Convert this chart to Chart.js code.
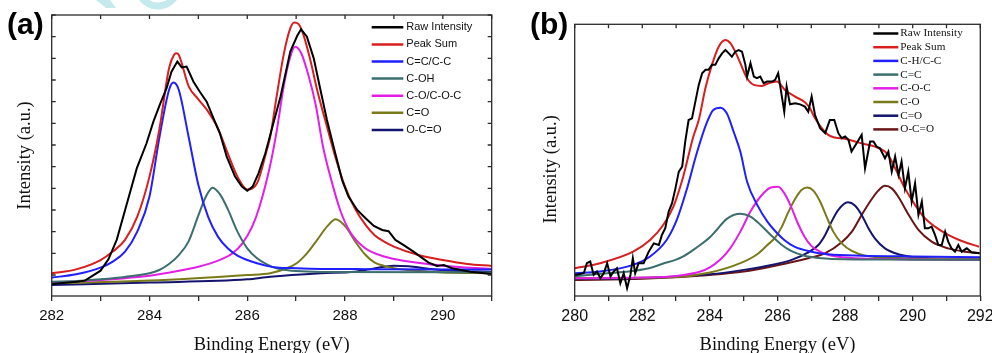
<!DOCTYPE html>
<html>
<head>
<meta charset="utf-8">
<script src="https://cdn.jsdelivr.net/npm/chart.js@4.4.1/dist/chart.umd.min.js"></script>
<style>
  html, body { margin: 0; padding: 0; background: #fff; }
  #wrap { position: relative; width: 992px; height: 353px; overflow: hidden; }
  .panel { position: absolute; top: 0; height: 353px; }
</style>
</head>
<body>
<div id="wrap">
  <div class="panel" style="left:0;width:496px"><canvas id="chartA"></canvas></div>
  <div class="panel" style="left:496px;width:520px"><canvas id="chartB"></canvas></div>
</div>
<script>
// ---- panel (a): C1s, binding energy (eV) vs intensity (a.u.) ----
const rawA = [
  [282.0,-0.42],[282.51,-0.31],[282.68,-0.26],[283.0,0.2],[283.16,0.72],[283.33,1.62],[283.53,3.23],
  [283.74,4.92],[283.94,6.08],[284.08,7.08],[284.21,7.85],[284.35,8.62],[284.45,9.38],[284.57,9.85],
  [284.66,9.58],[284.76,9.62],[284.9,8.92],[285.03,8.46],[285.17,8.0],[285.31,7.23],[285.44,6.54],
  [285.58,5.46],[285.75,4.54],[285.89,4.08],[286.0,3.89],[286.11,4.08],[286.23,4.69],[286.37,5.62],
  [286.47,6.46],[286.68,8.23],[286.88,10.31],[287.02,11.03],[287.1,11.34],[287.22,11.0],[287.36,10.0],
  [287.49,8.62],[287.63,7.15],[287.8,5.62],[287.94,4.38],[288.07,3.62],[288.25,3.0],[288.42,2.62],
  [288.59,2.26],[288.76,2.08],[288.89,2.02],[289.03,1.62],[289.2,1.38],[289.4,1.08],[289.54,0.85],
  [289.71,0.57],[289.88,0.42],[290.02,0.46],[290.19,0.31],[290.56,0.15],[291.0,0.05]
];
const sumA = [
  [282.0,0.08],[282.5,0.26],[283.0,0.69],[283.25,1.08],[283.5,1.62],[283.75,2.69],[284.0,4.54],
  [284.2,6.69],[284.4,9.54],[284.5,10.15],[284.55,10.23],[284.6,10.15],[284.8,8.72],[285.0,8.11],
  [285.2,7.54],[285.4,6.77],[285.6,5.62],[285.8,4.54],[286.0,3.95],[286.2,4.23],[286.4,5.77],
  [286.47,6.38],[286.6,8.23],[286.75,10.23],[286.88,11.38],[286.96,11.65],[287.05,11.58],[287.15,11.08],
  [287.29,9.92],[287.43,8.54],[287.63,6.85],[287.8,5.46],[288.0,4.08],[288.2,3.08],[288.42,2.31],
  [288.6,1.85],[288.8,1.54],[289.0,1.31],[289.5,0.92],[290.0,0.69],[290.5,0.51],[291.0,0.42]
];
const ccA = [
  [282.0,-0.12],[282.5,0.03],[283.0,0.34],[283.25,0.62],[283.5,1.08],[283.75,2.0],[284.0,3.62],
  [284.2,6.31],[284.4,8.54],[284.49,8.88],[284.6,8.54],[284.8,6.38],[285.0,4.15],[285.2,2.68],
  [285.4,1.77],[285.6,1.23],[285.8,0.89],[286.0,0.69],[286.2,0.54],[286.4,0.42],[286.6,0.35],
  [287.0,0.31],[287.5,0.28],[288.5,0.27],[291.0,0.25]
];
const cohA = [
  [282.0,-0.31],[282.5,-0.28],[283.0,-0.2],[283.5,-0.09],[284.0,0.08],[284.2,0.23],[284.4,0.51],
  [284.6,0.92],[284.8,1.55],[285.0,2.75],[285.15,3.6],[285.29,4.03],[285.45,3.7],[285.6,3.05],
  [285.8,2.0],[286.0,1.23],[286.2,0.77],[286.4,0.49],[286.6,0.31],[286.8,0.23],[287.0,0.18],
  [287.5,0.14],[291.0,0.12]
];
const coA = [
  [282.0,-0.35],[283.0,-0.23],[284.0,-0.03],[284.5,0.15],[285.0,0.38],[285.4,0.66],[285.7,1.0],
  [285.9,1.46],[286.1,2.23],[286.25,3.15],[286.47,5.08],[286.6,6.62],[286.75,8.77],[286.88,10.08],
  [286.98,10.54],[287.1,10.26],[287.25,9.23],[287.4,7.85],[287.55,5.92],[287.7,4.54],[287.9,3.0],
  [288.1,2.0],[288.4,1.26],[288.8,0.85],[289.3,0.62],[290.0,0.43],[291.0,0.28]
];
const cdoA = [
  [282.0,-0.38],[284.0,-0.26],[286.0,0.0],[286.47,0.08],[286.81,0.31],[287.01,0.54],[287.22,1.0],
  [287.43,1.62],[287.63,2.23],[287.81,2.57],[288.01,2.23],[288.21,1.54],[288.42,0.92],[288.6,0.58],
  [288.8,0.42],[289.0,0.31],[289.51,0.18],[290.0,0.12],[291.0,0.08]
];
const ocoA = [
  [282.0,-0.46],[284.0,-0.35],[286.0,-0.2],[286.47,-0.08],[287.5,0.08],[288.2,0.15],[288.5,0.26],
  [288.8,0.38],[289.0,0.43],[289.3,0.4],[289.7,0.29],[290.2,0.2],[291.0,0.14]
];

// ---- panel (b) ----
const rawB = [
  [280.0,0.05],[280.12,0.08],[280.27,0.13],[280.36,0.61],[280.46,0.69],[280.56,0.05],[280.66,0.21],
  [280.76,-0.11],[280.86,0.13],[280.96,0.61],[281.06,-0.03],[281.15,0.21],[281.25,0.37],[281.35,-0.35],
  [281.45,0.13],[281.55,-0.59],[281.65,0.05],[281.72,0.85],[281.79,0.13],[281.89,0.61],[282.04,0.61],
  [282.19,1.16],[282.34,1.56],[282.49,1.48],[282.58,1.96],[282.68,2.28],[282.78,3.08],[282.88,3.48],
  [282.98,4.19],[283.08,4.99],[283.18,5.23],[283.27,6.43],[283.37,7.46],[283.47,7.54],[283.57,8.34],
  [283.67,9.14],[283.77,9.7],[283.87,9.86],[283.96,9.86],[284.06,10.1],[284.16,10.1],[284.26,10.41],
  [284.36,10.65],[284.46,10.81],[284.56,10.65],[284.65,10.49],[284.75,10.73],[284.85,10.81],[284.95,10.73],
  [285.05,10.1],[285.1,9.54],[285.2,10.18],[285.3,9.54],[285.39,9.46],[285.49,9.54],[285.59,9.22],
  [285.69,9.3],[285.84,9.3],[285.93,9.38],[286.02,9.7],[286.2,7.86],[286.27,9.06],[286.37,8.21],
  [286.52,8.26],[286.67,8.21],[286.81,8.1],[286.91,7.86],[287.01,8.58],[287.11,7.7],[287.26,7.07],
  [287.41,6.83],[287.55,7.46],[287.68,7.46],[287.8,6.83],[287.9,6.59],[288.0,6.67],[288.1,6.51],
  [288.19,5.95],[288.34,6.35],[288.49,6.75],[288.59,5.15],[288.74,6.43],[288.84,6.43],[288.93,6.19],
  [289.03,6.11],[289.18,5.63],[289.28,5.95],[289.38,4.99],[289.48,5.71],[289.58,4.83],[289.67,5.47],
  [289.77,4.19],[289.87,4.99],[289.97,3.56],[290.07,4.43],[290.17,2.92],[290.27,3.56],[290.36,2.28],
  [290.46,2.28],[290.56,2.36],[290.66,1.96],[290.76,1.48],[290.86,1.48],[290.96,2.12],[291.05,1.64],
  [291.15,1.32],[291.25,1.16],[291.35,1.48],[291.45,1.16],[291.6,1.32],[291.74,1.13],[291.96,1.08]
];
const sumB = [
  [280.0,0.37],[280.75,0.61],[281.73,1.16],[282.23,1.72],[282.62,2.44],[282.92,3.32],[283.21,4.75],
  [283.51,6.67],[283.67,7.46],[283.87,9.0],[284.06,10.1],[284.26,10.97],[284.46,11.29],[284.61,11.13],
  [284.75,10.73],[284.9,10.18],[285.1,9.46],[285.3,9.14],[285.54,9.09],[285.74,9.22],[285.98,9.3],
  [286.22,8.9],[286.52,8.58],[286.81,8.31],[286.96,8.02],[287.11,7.54],[287.31,7.07],[287.5,6.75],
  [287.7,6.62],[288.0,6.56],[288.29,6.43],[288.59,6.3],[288.88,6.19],[289.18,5.95],[289.33,5.63],
  [289.53,4.99],[289.77,4.19],[290.07,3.4],[290.36,2.76],[290.66,2.36],[291.05,1.96],[291.45,1.67],
  [291.96,1.4]
];
const chB = [
  [280.0,0.13],[280.75,0.21],[281.73,0.53],[282.23,0.93],[282.72,1.72],[283.02,2.68],[283.31,4.11],
  [283.61,5.87],[283.9,7.3],[284.1,7.94],[284.31,8.05],[284.5,7.78],[284.7,6.91],[284.9,5.95],
  [285.1,4.51],[285.4,3.4],[285.7,2.6],[285.93,2.15],[286.2,1.72],[286.5,1.4],[287.0,1.16],
  [287.5,1.04],[288.5,0.97],[290.0,0.93],[292.0,0.89]
];
const ccB = [
  [280.0,-0.02],[280.75,0.1],[281.5,0.2],[282.2,0.37],[282.6,0.58],[283.0,0.78],[283.2,0.92],
  [283.6,1.35],[284.0,1.85],[284.2,2.2],[284.5,2.73],[284.9,2.97],[285.2,2.84],[285.5,2.44],
  [285.8,1.96],[286.1,1.52],[286.4,1.2],[286.8,0.97],[287.3,0.85],[288.0,0.8],[290.0,0.78],[292.0,0.77]
];
const cocB = [
  [280.0,-0.11],[282.0,-0.08],[283.0,0.0],[283.72,0.21],[284.0,0.41],[284.3,0.77],[284.6,1.32],
  [284.9,2.12],[285.2,3.08],[285.5,3.8],[285.8,4.23],[286.02,4.27],[286.2,3.96],[286.4,3.32],
  [286.6,2.52],[286.8,1.88],[287.0,1.44],[287.3,1.13],[287.7,0.94],[288.3,0.85],[289.5,0.8],[292.0,0.77]
];
const coB = [
  [280.0,-0.11],[283.0,-0.05],[284.0,0.16],[284.9,0.61],[285.4,1.04],[285.7,1.48],[285.93,1.83],
  [286.13,2.36],[286.32,3.05],[286.52,3.68],[286.71,4.11],[286.88,4.23],[287.06,4.08],[287.26,3.56],
  [287.45,2.84],[287.65,2.12],[287.9,1.56],[288.2,1.2],[288.6,0.97],[289.18,0.88],[292.0,0.81]
];
const cdoB = [
  [280.0,-0.14],[282.0,-0.1],[284.0,0.08],[285.0,0.29],[285.93,0.56],[286.42,0.77],[286.91,1.13],
  [287.21,1.48],[287.41,1.96],[287.6,2.6],[287.8,3.16],[288.08,3.52],[288.29,3.37],[288.49,2.92],
  [288.69,2.28],[288.88,1.8],[289.18,1.32],[289.57,1.04],[290.07,0.89],[290.86,0.81],[292.0,0.78]
];
const ocoB = [
  [280.0,-0.19],[282.0,-0.14],[284.0,0.05],[285.0,0.21],[285.93,0.49],[286.91,0.85],[287.4,1.08],
  [287.9,1.61],[288.2,2.12],[288.49,2.92],[288.79,3.68],[288.98,4.08],[289.18,4.31],[289.38,4.19],
  [289.57,3.8],[289.87,2.95],[290.17,2.2],[290.56,1.64],[291.05,1.32],[291.55,1.16],[292.0,1.08]
];

const labelsA = ['Raw Intensity', 'Peak Sum', 'C=C/C-C', 'C-OH', 'C-O/C-O-C', 'C=O', 'O-C=O'];
const labelsB = ['Raw Intensity', 'Peak Sum', 'C-H/C-C', 'C=C', 'C-O-C', 'C-O', 'C=O', 'O-C=O'];
const colorsA = ['#000000', '#d81e1e', '#1f1fff', '#3c6e6e', '#e41ee6', '#7a7a1a', '#14146e'];
const colorsB = ['#000000', '#d81e1e', '#1f1fff', '#3c6e6e', '#e41ee6', '#7a7a1a', '#14146e', '#6a1616'];

const SANS = '"Liberation Sans", Arial, sans-serif';
const SERIF = '"Liberation Serif", "Times New Roman", serif';

// frame, inward ticks, legend and panel tag
const decor = {
  id: 'decor',
  afterDraw(chart, args, o) {
    const { ctx, chartArea: a, scales } = chart;
    const xs = scales.x, ys = scales.y;
    ctx.save();
    if (o.watermark) {
      ctx.fillStyle = 'rgba(165, 222, 228, 0.65)';
      ctx.beginPath();
      ctx.moveTo(96, 0); ctx.lineTo(110, 0); ctx.lineTo(116, 8); ctx.lineTo(106, 8);
      ctx.closePath(); ctx.fill();
      ctx.strokeStyle = 'rgba(165, 222, 228, 0.65)';
      ctx.lineWidth = 7;
      ctx.beginPath(); ctx.arc(158, -14, 20, 0.2 * Math.PI, 0.85 * Math.PI); ctx.stroke();
    }
    ctx.strokeStyle = '#2b2b2b';
    ctx.lineWidth = 1.3;
    ctx.strokeRect(a.left, a.top, a.right - a.left, a.bottom - a.top);
    ctx.beginPath();
    ys.ticks.forEach(t => {
      if (Math.abs(t.value - Math.round(t.value)) > 1e-6) return;
      const p = ys.getPixelForValue(t.value);
      ctx.moveTo(a.left, p); ctx.lineTo(a.left + 4, p);
      ctx.moveTo(a.right - 4, p); ctx.lineTo(a.right, p);
    });
    xs.ticks.forEach(t => {
      const p = xs.getPixelForValue(t.value);
      ctx.moveTo(p, a.top); ctx.lineTo(p, a.top + 4);
    });
    ctx.stroke();

    const lg = o.legend;
    ctx.font = lg.font;
    ctx.textBaseline = 'middle';
    chart.data.datasets.forEach((ds, i) => {
      const y = lg.y + i * lg.step;
      ctx.strokeStyle = ds.borderColor;
      ctx.lineWidth = lg.lineWidth;
      ctx.beginPath(); ctx.moveTo(lg.x, y); ctx.lineTo(lg.x + lg.len, y); ctx.stroke();
      ctx.fillStyle = '#111';
      ctx.fillText(ds.label, lg.x + lg.len + lg.gap, y);
    });

    ctx.font = 'bold 30px ' + SANS;
    ctx.textBaseline = 'alphabetic';
    ctx.fillStyle = '#000';
    ctx.fillText(o.tag.text, o.tag.x, o.tag.y);
    ctx.restore();
  }
};

function makeSets(series, labels, colors) {
  return series.map((s, i) => ({
    label: labels[i],
    data: s.map(([x, y]) => ({ x, y })),
    borderColor: colors[i],
    borderWidth: 2,
    pointRadius: 0,
    fill: false,
    cubicInterpolationMode: i === 0 ? 'default' : 'monotone',
    tension: 0
  }));
}

function makeChart(id, cfg) {
  return new Chart(document.getElementById(id), {
    type: 'line',
    data: { datasets: makeSets(cfg.series, cfg.labels, cfg.colors) },
    options: {
      responsive: true,
      maintainAspectRatio: false,
      animation: false,
      events: [],
      layout: { padding: cfg.padding },
      plugins: {
        legend: { display: false },
        tooltip: { enabled: false },
        decor: cfg.decor
      },
      scales: {
        x: {
          type: 'linear',
          min: cfg.xMin,
          max: cfg.xMax,
          afterFit: s => { s.height = cfg.xAxisH; s.paddingLeft = 0; s.paddingRight = 0; },
          border: { display: false },
          grid: { drawOnChartArea: false, drawTicks: true, tickLength: 5, color: '#2b2b2b', lineWidth: 1.3 },
          ticks: {
            stepSize: 1,
            autoSkip: false,
            maxRotation: 0,
            padding: 6,
            color: '#111',
            font: { family: SANS, size: cfg.tickSize },
            callback: v => (v % 2 === 0 ? String(v) : '')
          },
          title: {
            display: true,
            text: 'Binding Energy (eV)',
            color: '#111',
            font: { family: SERIF, size: 18.5 },
            padding: { top: 0, bottom: cfg.xTitleBottom }
          }
        },
        y: {
          min: cfg.yMin,
          max: cfg.yMax,
          afterFit: s => { s.width = cfg.yAxisW; },
          border: { display: false },
          grid: { display: false, drawTicks: false },
          ticks: { display: false, stepSize: 1 },
          title: {
            display: true,
            text: cfg.yTitle,
            color: '#111',
            font: { family: SERIF, size: 18.5 },
            padding: { top: cfg.yTitleTop, bottom: 0 }
          }
        }
      }
    },
    plugins: [decor]
  });
}

makeChart('chartA', {
  series: [rawA, sumA, ccA, cohA, coA, cdoA, ocoA],
  labels: labelsA,
  colors: colorsA,
  xMin: 282, xMax: 291, yMin: -0.97, yMax: 12.0,
  tickSize: 15,
  yTitle: 'Intensity (a.u.)',
  padding: { left: 0, right: 4.3, top: 15, bottom: 0 },
  xAxisH: 57, yAxisW: 51.7,
  xTitleBottom: -3.6,
  yTitleTop: 14.4,
  decor: {
    watermark: true,
    tag: { text: '(a)', x: 7, y: 34 },
    legend: { x: 371.7, y: 27.3, step: 17.1, len: 31.6, gap: 3, lineWidth: 2.5, font: '11px ' + SANS }
  }
});

makeChart('chartB', {
  series: [rawB, sumB, chB, ccB, cocB, coB, cdoB, ocoB],
  labels: labelsB,
  colors: colorsB,
  xMin: 280, xMax: 292, yMin: -0.96, yMax: 12.04,
  tickSize: 16,
  yTitle: 'Intensity (a.u.)    ',
  padding: { left: 0, right: 35.7, top: 24.3, bottom: 0 },
  xAxisH: 57, yAxisW: 78.7,
  xTitleBottom: -3.1,
  yTitleTop: 44.4,
  decor: {
    watermark: false,
    tag: { text: '(b)', x: 34, y: 34 },
    legend: { x: 377.3, y: 33.5, step: 13.7, len: 25, gap: 2, lineWidth: 2.5, font: '11.2px ' + SERIF }
  }
});
</script>
</body>
</html>
